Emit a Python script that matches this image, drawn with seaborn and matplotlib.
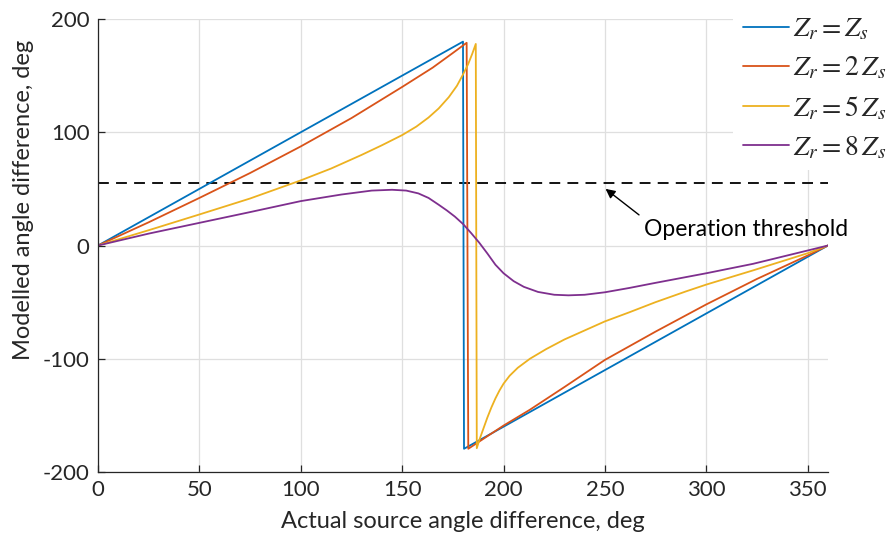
import numpy as np
import pandas as pd
import matplotlib
matplotlib.use("Agg")
import matplotlib.pyplot as plt
import seaborn as sns

# ---- data ----
x_blue = [0, 50, 100, 150, 180, 180.5, 200, 250, 300, 350, 360]
y_blue = [0, 50, 100, 150, 180, -179.5, -160, -110, -60, -10, 0]

x_red = [0, 25, 50, 75, 100, 125, 150, 165, 175, 181.8, 182.6, 200, 213, 230, 250, 275, 300, 325, 350, 360]
y_red = [0, 20.5, 42, 64, 87.5, 112.5, 140, 157, 170, 179, -179.5, -159, -145, -125, -101, -76, -52, -29.5, -8.8, 0]

x_yel = [0, 25, 50, 75, 100, 115, 130, 140, 150, 157, 163, 168, 173, 177, 180, 182.5, 184.5, 186.3, 186.8,
         188, 190, 192, 194, 196, 198, 200, 203, 207, 213, 221, 230, 240, 250, 262, 275, 290, 300, 323, 350, 360]
y_yel = [0, 13.5, 27.4, 41.5, 57.5, 68, 80, 88.5, 97.5, 105, 113, 121, 131, 141, 151, 160, 169, 178, -179,
         -172, -162, -152, -143, -135, -128, -122, -115, -108, -100, -91.5, -83, -75, -67, -59, -50, -40.5, -34.5, -22, -6.8, 0]

x_pur = [0, 25, 50, 75, 100, 120, 135, 145, 152, 158, 163, 168, 172, 176, 180, 184, 188, 192, 196, 200,
         205, 210, 217, 225, 232, 240, 250, 262, 274, 287, 300, 323, 350, 360]
y_pur = [0, 10.5, 20, 29.5, 39.2, 45, 48.5, 49.2, 48.5, 46, 42, 36, 31, 25.5, 19, 11, 2.5, -7, -17, -24.5,
         -31.5, -36.5, -41, -43.5, -44, -43.5, -41.3, -37.5, -33.3, -28.9, -24.5, -16.2, -4.4, 0]

threshold = 55
labels = [r'$Z_r = Z_s$', r'$Z_r = \mathit{2}\,Z_s$',
          r'$Z_r = \mathit{5}\,Z_s$', r'$Z_r = \mathit{8}\,Z_s$']
colors = ['#0072BD', '#D95319', '#EDB120', '#7E2F8E']
xticks = [0, 50, 100, 150, 200, 250, 300, 350]
yticks = [-200, -100, 0, 100, 200]

series = [(x_blue, y_blue), (x_red, y_red), (x_yel, y_yel), (x_pur, y_pur)]
frames = []
for lab, (xs, ys) in zip(labels, series):
    frames.append(pd.DataFrame({'x': xs, 'y': ys, 'series': lab}))
df = pd.concat(frames, ignore_index=True)

# ---- styling ----
sns.set_style("ticks")
plt.rcParams['font.family'] = ['Lato', 'DejaVu Sans']
plt.rcParams['mathtext.fontset'] = 'stix'
plt.rcParams['axes.unicode_minus'] = False

fig = plt.figure(figsize=(8.91, 5.47), dpi=100)
ax = fig.add_axes([98/891, 1 - 472/547, (828 - 98)/891, (472 - 19)/547])

sns.lineplot(data=df, x='x', y='y', hue='series', hue_order=labels, palette=colors,
             estimator=None, sort=False, units='series', linewidth=1.3, ax=ax, legend=False)

ax.axhline(threshold, color='black', linestyle=(0, (6, 4)), linewidth=1.3, zorder=1)

ax.set_xlim(0, 360)
ax.set_ylim(-200, 200)
ax.set_xticks(xticks)
ax.set_yticks(yticks)
ax.grid(True, color='#dfdfdf', linewidth=0.9)
ax.set_axisbelow(True)
for s in ['top', 'right']:
    ax.spines[s].set_visible(False)
for s in ['left', 'bottom']:
    ax.spines[s].set_color('#262626')
    ax.spines[s].set_linewidth(0.9)
ax.tick_params(direction='in', length=5, width=0.9, color='#262626', labelsize=16,
               labelcolor='#262626', pad=6)
ax.set_xlabel('Actual source angle difference, deg', fontsize=17, color='#262626', labelpad=8)
ax.set_ylabel('Modelled angle difference, deg', fontsize=17, color='#262626')
ax.yaxis.set_label_coords(-0.088, 0.6)

ax.annotate('Operation threshold', xy=(250.3, 50), xytext=(269.5, 14),
            fontsize=16.5, color='black', ha='left', va='center',
            arrowprops=dict(arrowstyle='-|>', color='black', lw=1.0, mutation_scale=14,
                            shrinkA=2, shrinkB=0, relpos=(0, 1)))

handles = [plt.Line2D([], [], color=c, linewidth=1.3) for c in colors]
leg = fig.legend(handles, labels, loc='upper left', bbox_to_anchor=(733/891, 1 - 6/547),
                 fontsize=20, frameon=True, facecolor='white', edgecolor='none', framealpha=1,
                 handlelength=1.65, handletextpad=0.15, labelspacing=0.45, borderpad=0.35,
                 borderaxespad=0)

fig.savefig('out.png', dpi=100)
